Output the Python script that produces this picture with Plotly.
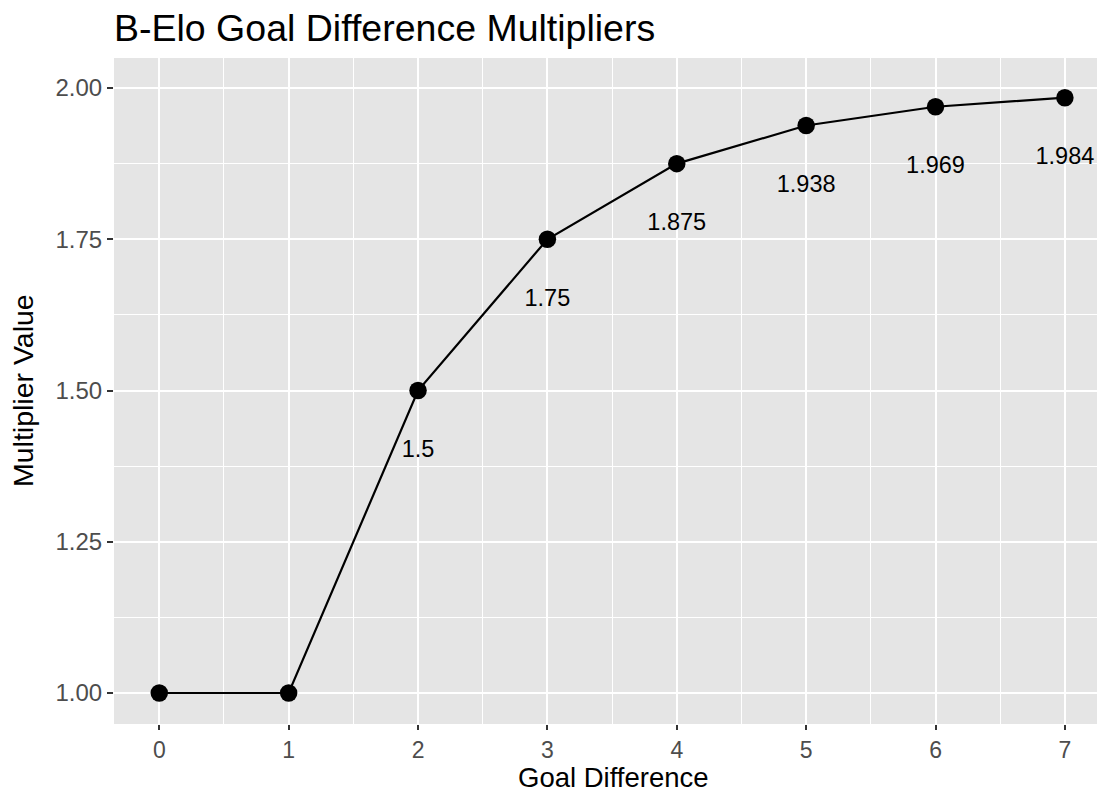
import plotly.graph_objects as go

goal_diff = [0, 1, 2, 3, 4, 5, 6, 7]
multiplier = [1.0, 1.0, 1.5, 1.75, 1.875, 1.938, 1.969, 1.984]
label_x = [2, 3, 4, 5, 6, 7]
label_y = [1.5, 1.75, 1.875, 1.938, 1.969, 1.984]
label_text = ["1.5", "1.75", "1.875", "1.938", "1.969", "1.984"]
y_ticks = [1.00, 1.25, 1.50, 1.75, 2.00]
y_tick_text = ["1.00", "1.25", "1.50", "1.75", "2.00"]
x_ticks = [0, 1, 2, 3, 4, 5, 6, 7]

FONT = "Liberation Sans, Arial, Helvetica, sans-serif"
label_offset = 0.1

# page body has an 8px margin; compensate so the panel lands where the reference has it
OFF = 8
W, H = 1105 - OFF, 792 - OFF
L, T, B, R = 114 - OFF, 58 - OFF, 792 - 724, 0
plot_w = W - L - R
plot_h = H - T - B

fig = go.Figure()
fig.add_trace(go.Scatter(
    x=goal_diff, y=multiplier, mode="lines+markers",
    line=dict(color="black", width=2.2),
    marker=dict(color="black", size=17.5),
    hoverinfo="skip", showlegend=False,
))
fig.add_trace(go.Scatter(
    x=label_x, y=[v - label_offset for v in label_y], mode="text",
    text=label_text, textposition="middle center",
    textfont=dict(family=FONT, size=23.5, color="black"),
    hoverinfo="skip", showlegend=False, cliponaxis=False,
))

axis_common = dict(
    showgrid=True, gridcolor="white", gridwidth=2.4,
    zeroline=False, showline=False,
    ticks="outside", tickwidth=1.5, tickcolor="#333333",
)

fig.update_layout(
    width=W, height=H,
    margin=dict(l=L, r=R, t=T, b=B, autoexpand=False),
    paper_bgcolor="white", plot_bgcolor="#E5E5E5",
    font=dict(family=FONT),
    title=dict(text="B-Elo Goal Difference Multipliers",
               font=dict(family=FONT, size=37.5, color="black"),
               x=0, xref="paper", xanchor="left",
               y=1 - (28 - OFF) / H, yref="container", yanchor="middle"),
    xaxis=dict(range=[-0.35, 7.31], tickvals=x_ticks,
               ticktext=[str(v) for v in x_ticks], ticklen=5,
               tickfont=dict(family=FONT, size=23, color="#4D4D4D"),
               minor=dict(dtick=0.5, tick0=0, showgrid=True, gridcolor="white", gridwidth=1.1, ticks=""),
               **axis_common),
    yaxis=dict(range=[0.9488, 2.0496], tickvals=y_ticks, ticktext=y_tick_text, ticklen=6,
               tickfont=dict(family=FONT, size=24, color="#4D4D4D"),
               minor=dict(dtick=0.125, tick0=1, showgrid=True, gridcolor="white", gridwidth=1.1, ticks=""),
               **axis_common),
    annotations=[
        dict(text="Goal Difference", xref="paper", xanchor="center",
             x=(613 - 114) / plot_w, y=-(777 - 724) / plot_h,
             yref="paper", yanchor="middle", showarrow=False,
             font=dict(family=FONT, size=27.5, color="black")),
        dict(text="Multiplier Value", xref="paper", xanchor="center",
             x=(23 - 114) / plot_w, y=1 - (391 - 58) / plot_h,
             yref="paper", yanchor="middle", showarrow=False, textangle=-90,
             font=dict(family=FONT, size=28.5, color="black")),
    ],
)

fig.write_html("out.html")
